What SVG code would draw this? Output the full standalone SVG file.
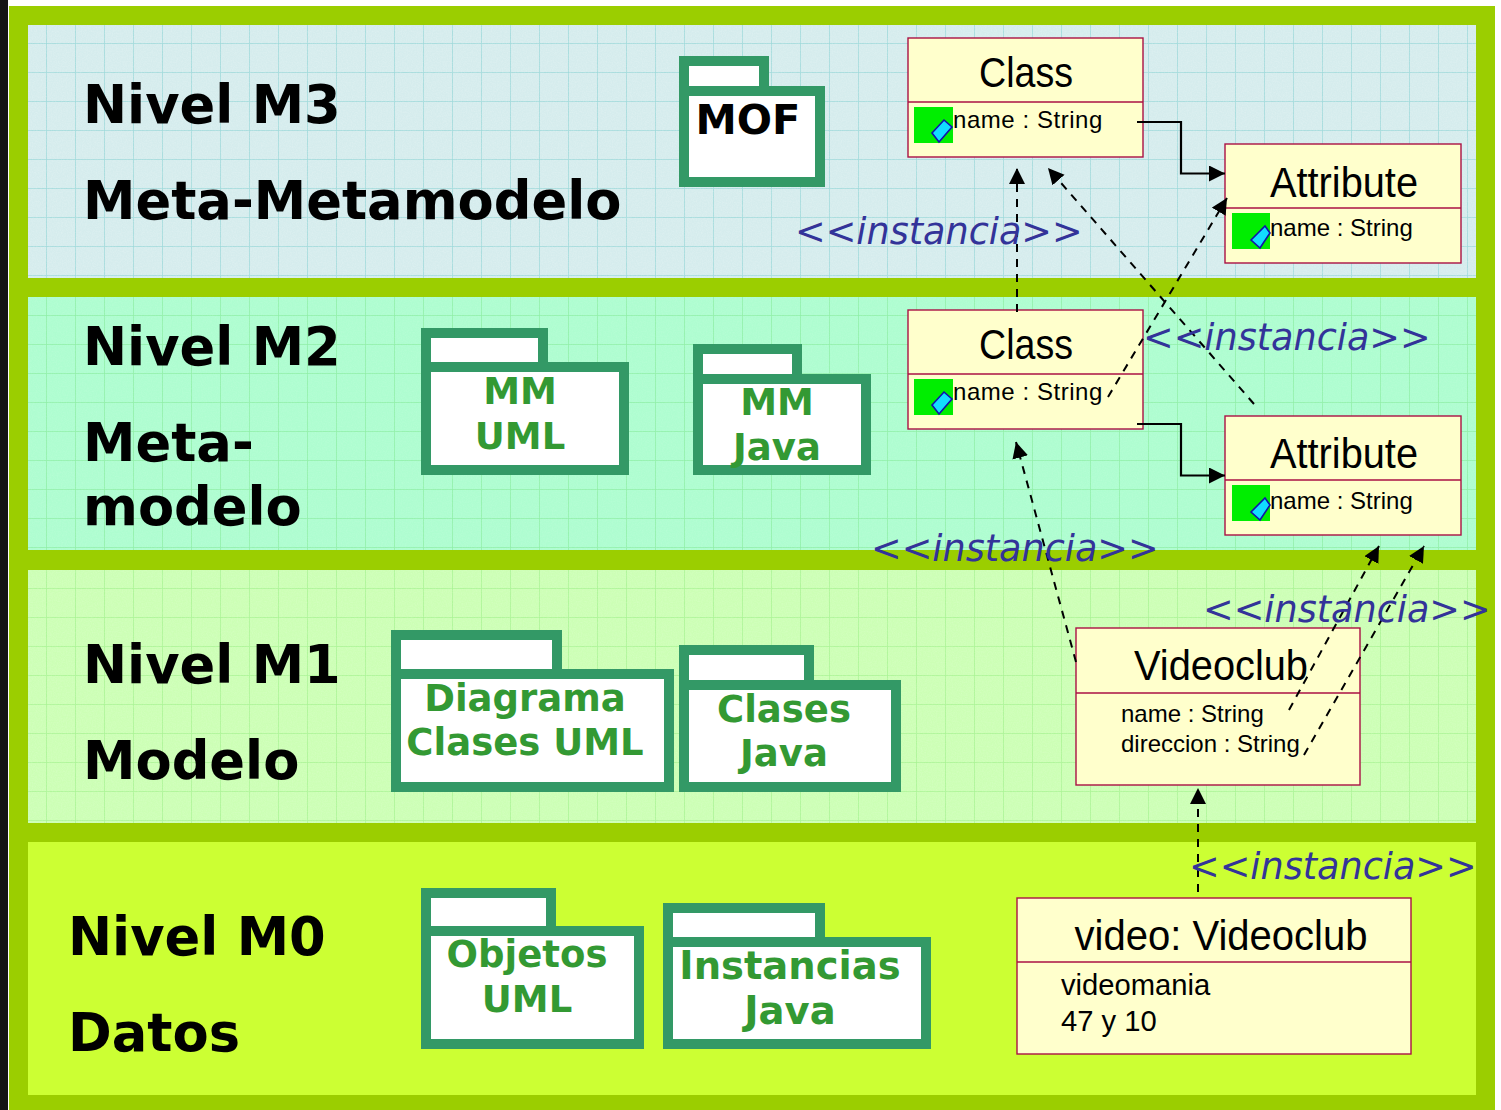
<svg xmlns="http://www.w3.org/2000/svg" width="1501" height="1110" viewBox="0 0 1501 1110">
<style>
.h{font-family:"DejaVu Sans",sans-serif;font-weight:700;font-size:52.7px;fill:#000}
.p{font-family:"DejaVu Sans",sans-serif;font-weight:700;font-size:37px;fill:#339933;text-anchor:middle}
.t{font-family:"Liberation Sans",Arial,sans-serif;font-size:42px;fill:#000;text-anchor:middle}
.a{font-family:"Liberation Sans",Arial,sans-serif;font-size:24px;fill:#000}
.b{font-size:29.2px}
.s{letter-spacing:.55px}
.i{font-family:"DejaVu Sans",sans-serif;font-style:oblique;font-size:36.6px;fill:#333399}
.box{fill:#ffffcc;stroke:#aa1144;stroke-width:1.4}
.sep{stroke:#aa1144;stroke-width:1.4;fill:none}
.fold{fill:#fff;stroke:#339966;stroke-width:10}
.fl{stroke:#339966;stroke-width:10;fill:none}
.dash{fill:none;stroke:#000;stroke-width:2;stroke-dasharray:8 7;marker-end:url(#ah)}
.solid{fill:none;stroke:#000;stroke-width:2.2;marker-end:url(#ah)}
.vg{fill:#00ee00}
.ic{fill:#11ddff;stroke:#1111aa;stroke-width:1.6}
</style>
<defs>
<marker id="ah" markerUnits="userSpaceOnUse" markerWidth="17" markerHeight="17" refX="16" refY="8" orient="auto"><path d="M0 0L16 8L0 16Z" fill="#000"/></marker>
<pattern id="g3" width="29" height="29" patternUnits="userSpaceOnUse" x="18" y="15"><rect width="29" height="29" fill="#d5eced"/><path d="M29 0V29M0 29H29" stroke="#9cd9d9" stroke-width="1.5"/></pattern>
<pattern id="g2" width="29" height="29" patternUnits="userSpaceOnUse" x="18" y="287"><rect width="29" height="29" fill="#aefdd0"/><path d="M29 0V29M0 29H29" stroke="#8eefa6" stroke-width="1.5"/></pattern>
<pattern id="g1" width="29" height="29" patternUnits="userSpaceOnUse" x="18" y="560"><rect width="29" height="29" fill="#ccffb5"/><path d="M29 0V29M0 29H29" stroke="#a8f492" stroke-width="1.5"/></pattern>
<filter id="noise" x="0" y="0" width="100%" height="100%"><feTurbulence type="fractalNoise" baseFrequency="0.8" numOctaves="2" seed="3"/><feColorMatrix values="0 0 0 0 1  0 0 0 0 1  0 0 0 0 1  1.6 0 0 0 -0.55"/></filter>
</defs>
<rect width="1501" height="1110" fill="#fff"/>
<rect x="0" y="0" width="8" height="1110" fill="#151515"/>
<rect x="9" y="6" width="1486" height="1104" fill="#9bce00"/>
<g id="bands">
<rect x="28" y="25" width="1448" height="253" fill="url(#g3)"/>
<rect x="28" y="297" width="1448" height="253" fill="url(#g2)"/>
<rect x="28" y="570" width="1448" height="253" fill="url(#g1)"/>
<rect x="28" y="25" width="1448" height="253" filter="url(#noise)" opacity=".2"/>
<rect x="28" y="297" width="1448" height="253" filter="url(#noise)" opacity=".1"/>
<rect x="28" y="570" width="1448" height="253" filter="url(#noise)" opacity=".15"/>
<rect x="28" y="842" width="1448" height="253" fill="#ccff33"/>
</g>
<g id="level-labels">
<text class="h" x="83" y="123">Nivel M3</text>
<text class="h" x="83" y="219">Meta-Metamodelo</text>
<text class="h" x="83" y="365">Nivel M2</text>
<text class="h" x="83" y="461">Meta-</text>
<text class="h" x="83" y="525">modelo</text>
<text class="h" x="83" y="683">Nivel M1</text>
<text class="h" x="83" y="779">Modelo</text>
<text class="h" x="68" y="955">Nivel M0</text>
<text class="h" x="68" y="1051">Datos</text>
</g>
<g id="pkg-mof"><path class="fold" d="M684 61H764V91H820V182H684Z"/><path class="fl" d="M684 91H764"/><text x="748" y="134" style="font-family:'DejaVu Sans',sans-serif;font-weight:700;font-size:41.5px;text-anchor:middle">MOF</text></g>
<g id="pkg-mm-uml"><path class="fold" d="M426 333H543V367H624V470H426Z"/><path class="fl" d="M426 367H543"/><text class="p" x="520" y="404">MM</text><text class="p" x="520" y="449">UML</text></g>
<g id="pkg-mm-java"><path class="fold" d="M698 349H797V379H866V470H698Z"/><path class="fl" d="M698 379H797"/><text class="p" x="777" y="415">MM</text><text class="p" x="777" y="460">Java</text></g>
<g id="pkg-diagrama"><path class="fold" d="M396 635H557V674H669V787H396Z"/><path class="fl" d="M396 674H557"/><text class="p" x="525" y="711">Diagrama</text><text class="p" x="525" y="755">Clases UML</text></g>
<g id="pkg-clases"><path class="fold" d="M684 650H809V685H896V787H684Z"/><path class="fl" d="M684 685H809"/><text class="p" x="784" y="722">Clases</text><text class="p" x="784" y="766">Java</text></g>
<g id="pkg-objetos"><path class="fold" d="M426 893H551V931H639V1044H426Z"/><path class="fl" d="M426 931H551"/><text class="p" x="527" y="967">Objetos</text><text class="p" x="527" y="1012">UML</text></g>
<g id="pkg-instancias"><path class="fold" d="M668 908H820V942H926V1044H668Z"/><path class="fl" d="M668 942H820"/><text class="p" x="790" y="979" style="font-size:38.5px">Instancias</text><text class="p" x="790" y="1024" style="font-size:38.5px">Java</text></g>
<g id="class-m3"><rect class="box" x="908" y="38" width="235" height="119"/><path class="sep" d="M908 102H1143"/><text class="t" x="1026" y="87" textLength="94" lengthAdjust="spacingAndGlyphs">Class</text><rect class="vg" x="914" y="107" width="39" height="36"/><path class="ic" d="M932 133L944 120L952 127L939 142Z"/><text class="a s" x="953" y="128">name : String</text></g>
<g id="attribute-m3"><rect class="box" x="1225" y="144" width="236" height="119"/><path class="sep" d="M1225 208H1461"/><text class="t" x="1344" y="197" textLength="148" lengthAdjust="spacingAndGlyphs">Attribute</text><rect class="vg" x="1232" y="213" width="38" height="36"/><path class="ic" d="M1251 240L1265 226L1270 233L1260 248Z"/><text class="a" x="1270" y="236">name : String</text></g>
<g id="class-m2"><rect class="box" x="908" y="310" width="235" height="119"/><path class="sep" d="M908 374H1143"/><text class="t" x="1026" y="359" textLength="94" lengthAdjust="spacingAndGlyphs">Class</text><rect class="vg" x="914" y="379" width="39" height="36"/><path class="ic" d="M932 405L944 392L952 399L939 414Z"/><text class="a s" x="953" y="400">name : String</text></g>
<g id="attribute-m2"><rect class="box" x="1225" y="416" width="236" height="119"/><path class="sep" d="M1225 480H1461"/><text class="t" x="1344" y="468" textLength="148" lengthAdjust="spacingAndGlyphs">Attribute</text><rect class="vg" x="1232" y="485" width="38" height="36"/><path class="ic" d="M1251 512L1265 498L1270 505L1260 520Z"/><text class="a" x="1270" y="509">name : String</text></g>
<g id="videoclub"><rect class="box" x="1076" y="628" width="284" height="157"/><path class="sep" d="M1076 693H1360"/><text class="t" x="1221" y="680" textLength="174" lengthAdjust="spacingAndGlyphs">Videoclub</text><text class="a" x="1121" y="722">name : String</text><text class="a" x="1121" y="752">direccion : String</text></g>
<g id="video"><rect class="box" x="1017" y="898" width="394" height="156"/><path class="sep" d="M1017 962H1411"/><text class="t" x="1221" y="950" textLength="293" lengthAdjust="spacingAndGlyphs">video: Videoclub</text><text class="a b" x="1061" y="995">videomania</text><text class="a b" x="1061" y="1031">47 y 10</text></g>
<g id="connectors">
<path class="solid" d="M1137 122H1181V173.500H1225"/>
<path class="solid" d="M1137 424H1181V475.500H1225"/>
<path class="dash" d="M1017 312V168"/>
<path class="dash" d="M1254 404L1048 168"/>
<path class="dash" d="M1108 397L1227 198"/>
<path class="dash" d="M1076 662L1016 442"/>
<path class="dash" d="M1289 710L1379 546"/>
<path class="dash" d="M1304 755L1424 546"/>
<path class="dash" d="M1198 892V788"/>
</g>
<g id="instancia-labels">
<text class="i" x="795" y="244">&lt;&lt;instancia&gt;&gt;</text>
<text class="i" x="1143" y="350">&lt;&lt;instancia&gt;&gt;</text>
<text class="i" x="871" y="561">&lt;&lt;instancia&gt;&gt;</text>
<text class="i" x="1203" y="622">&lt;&lt;instancia&gt;&gt;</text>
<text class="i" x="1189" y="879">&lt;&lt;instancia&gt;&gt;</text>
</g>
</svg>
